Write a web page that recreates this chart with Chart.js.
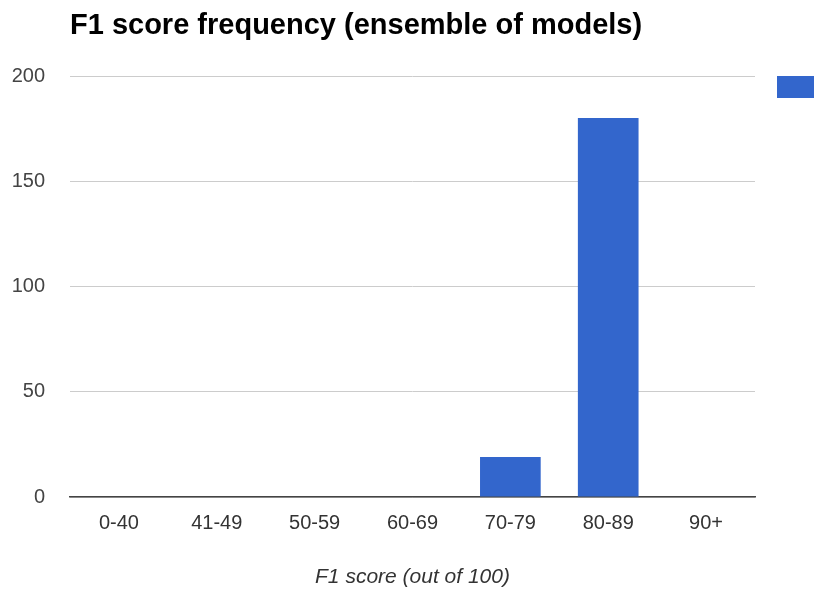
<!DOCTYPE html>
<html>
<head>
<meta charset="utf-8">
<script src="https://cdn.jsdelivr.net/npm/chart.js@4/dist/chart.umd.min.js"></script>
<style>
  html, body { margin: 0; padding: 0; background: #fff; overflow: hidden; }
  #wrap { position: relative; width: 814px; height: 593px; }
</style>
</head>
<body>
<div id="wrap"><canvas id="chart"></canvas></div>
<script>
const categories = ['0-40', '41-49', '50-59', '60-69', '70-79', '80-89', '90+'];
const frequency = [0, 0, 0, 0, 19, 180, 0];
const yTicks = [0, 50, 100, 150, 200];

const FONT = 'Arial, "Liberation Sans", sans-serif';

// legend swatch, cut off by the right edge as in the source picture
const edgeLegend = {
  id: 'edgeLegend',
  afterDraw(chart) {
    const { ctx, chartArea } = chart;
    const y = chart.scales.y.getPixelForValue(yTicks[yTicks.length - 1]);
    ctx.save();
    ctx.fillStyle = chart.data.datasets[0].backgroundColor;
    ctx.fillRect(chartArea.right + 22, y, 44, 22);
    ctx.restore();
  }
};

new Chart(document.getElementById('chart'), {
  type: 'bar',
  data: {
    labels: categories,
    datasets: [{
      label: 'Count',
      data: frequency,
      backgroundColor: '#3366cc',
      borderWidth: 0,
      categoryPercentage: 1,
      barPercentage: 0.62
    }]
  },
  options: {
    responsive: true,
    maintainAspectRatio: false,
    animation: false,
    layout: { padding: { left: 0, right: 59, top: 0, bottom: 0 } },
    plugins: {
      legend: { display: false },
      tooltip: { enabled: false },
      title: {
        display: true,
        text: 'F1 score frequency (ensemble of models)',
        align: 'start',
        fullSize: false,
        color: '#000',
        font: { family: FONT, size: 29, weight: 'bold' },
        padding: { top: 9, bottom: 32.2 }
      }
    },
    scales: {
      x: {
        grid: { display: false, drawTicks: false },
        border: { display: true, color: '#444', width: 1.5 },
        ticks: { color: '#333', font: { family: FONT, size: 20 }, padding: 14, maxRotation: 0 },
        title: {
          display: true,
          text: 'F1 score (out of 100)',
          color: '#333',
          font: { family: FONT, size: 21, style: 'italic' },
          padding: { top: 0, bottom: 3 }
        },
        afterFit(scale) { scale.height = 96; }
      },
      y: {
        min: 0,
        max: 200,
        grid: { color: '#cccccc', lineWidth: 1, drawTicks: false },
        border: { display: false },
        ticks: { color: '#444', font: { family: FONT, size: 20 }, padding: 25 },
        afterBuildTicks(scale) { scale.ticks = yTicks.map(v => ({ value: v })); },
        afterFit(scale) { scale.width = 70; }
      }
    }
  },
  plugins: [edgeLegend]
});
</script>
</body>
</html>
